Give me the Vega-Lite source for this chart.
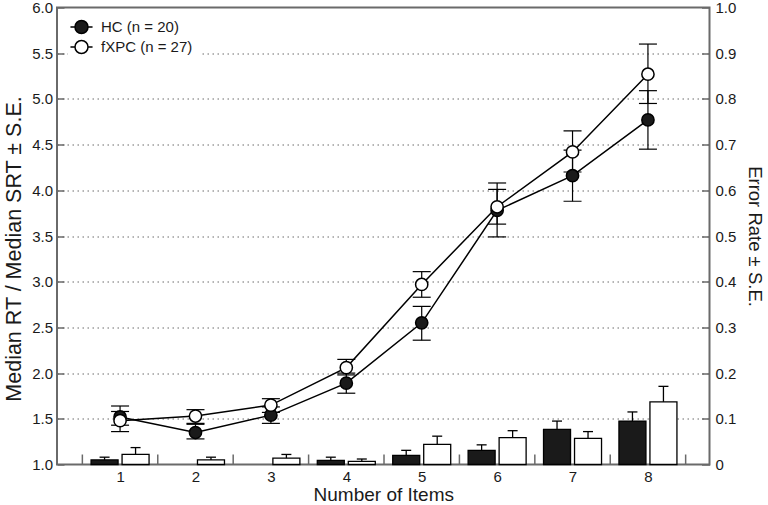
{
  "$schema": "https://vega.github.io/schema/vega-lite/v6.json",
  "width": 652.5,
  "height": 457,
  "autosize": {"type": "none"},
  "padding": {"left": 57, "top": 7.5, "right": 58.5, "bottom": 40.5},
  "background": "white",
  "config": {
    "view": {"stroke": "#6a6a6a", "strokeWidth": 2},
    "font": "Liberation Sans",
    "axis": {
      "labelFont": "Liberation Sans",
      "titleFont": "Liberation Sans",
      "labelFontSize": 15,
      "titleFontSize": 19,
      "titleFontWeight": "normal",
      "labelColor": "#1a1a1a",
      "titleColor": "#1a1a1a",
      "domain": false,
      "tickColor": "#6a6a6a",
      "tickWidth": 1.5
    }
  },
  "datasets": {
    "main": [
      {"items": 1, "group": "HC", "rt": 1.52, "lo": 1.43, "hi": 1.58, "err": 0.010, "errHi": 0.016},
      {"items": 2, "group": "HC", "rt": 1.35, "lo": 1.28, "hi": 1.44, "err": null, "errHi": null},
      {"items": 3, "group": "HC", "rt": 1.54, "lo": 1.45, "hi": 1.63, "err": null, "errHi": null},
      {"items": 4, "group": "HC", "rt": 1.89, "lo": 1.78, "hi": 2.00, "err": 0.009, "errHi": 0.016},
      {"items": 5, "group": "HC", "rt": 2.55, "lo": 2.36, "hi": 2.73, "err": 0.020, "errHi": 0.031},
      {"items": 6, "group": "HC", "rt": 3.78, "lo": 3.49, "hi": 4.08, "err": 0.031, "errHi": 0.043},
      {"items": 7, "group": "HC", "rt": 4.16, "lo": 3.88, "hi": 4.44, "err": 0.077, "errHi": 0.095},
      {"items": 8, "group": "HC", "rt": 4.77, "lo": 4.45, "hi": 5.09, "err": 0.095, "errHi": 0.115},
      {"items": 1, "group": "fXPC", "rt": 1.48, "lo": 1.36, "hi": 1.64, "err": 0.022, "errHi": 0.037},
      {"items": 2, "group": "fXPC", "rt": 1.53, "lo": 1.45, "hi": 1.60, "err": 0.010, "errHi": 0.016},
      {"items": 3, "group": "fXPC", "rt": 1.65, "lo": 1.57, "hi": 1.72, "err": 0.014, "errHi": 0.022},
      {"items": 4, "group": "fXPC", "rt": 2.06, "lo": 1.98, "hi": 2.15, "err": 0.007, "errHi": 0.012},
      {"items": 5, "group": "fXPC", "rt": 2.97, "lo": 2.83, "hi": 3.11, "err": 0.044, "errHi": 0.062},
      {"items": 6, "group": "fXPC", "rt": 3.82, "lo": 3.63, "hi": 4.01, "err": 0.059, "errHi": 0.074},
      {"items": 7, "group": "fXPC", "rt": 4.42, "lo": 4.20, "hi": 4.65, "err": 0.057, "errHi": 0.072},
      {"items": 8, "group": "fXPC", "rt": 5.27, "lo": 4.95, "hi": 5.60, "err": 0.137, "errHi": 0.171}
    ],
    "bounds": [
      {"b": 0.5}, {"b": 1.5}, {"b": 2.5}, {"b": 3.5}, {"b": 4.5},
      {"b": 5.5}, {"b": 6.5}, {"b": 7.5}, {"b": 8.5}
    ]
  },
  "data": {"name": "main"},
  "layer": [
    {
      "layer": [
        {
          "transform": [{"filter": "datum.group == 'HC'"}],
          "mark": {"type": "bar", "size": 27, "xOffset": -15.5, "stroke": "black", "strokeWidth": 1.3},
          "encoding": {
            "x": {"field": "items", "type": "quantitative", "scale": {"domain": [0.23, 8.75], "nice": false, "zero": false}},
            "y": {"field": "err", "type": "quantitative", "scale": {"domain": [0, 1], "nice": false},
              "axis": {
                "orient": "right",
                "values": [0, 0.1, 0.2, 0.3, 0.4, 0.5, 0.6, 0.7, 0.8, 0.9, 1.0],
                "labelExpr": "datum.value == 0 ? '0' : format(datum.value, '.1f')",
                "grid": false,
                "tickSize": -8,
                "labelPadding": 13.5,
                "title": "Error Rate ± S.E.",
                "titleFontSize": 18.5,
                "titlePadding": 9
              }},
            "fill": {"field": "group", "type": "nominal", "scale": {"domain": ["HC", "fXPC"], "range": ["#1a1a1a", "#ffffff"]}}
          }
        },
        {
          "transform": [{"filter": "datum.group == 'fXPC'"}],
          "mark": {"type": "bar", "size": 27, "xOffset": 15.5, "stroke": "black", "strokeWidth": 1.3},
          "encoding": {
            "x": {"field": "items", "type": "quantitative"},
            "y": {"field": "err", "type": "quantitative"},
            "fill": {"field": "group", "type": "nominal"}
          }
        },
        {
          "transform": [{"filter": "datum.group == 'HC'"}],
          "mark": {"type": "rule", "xOffset": -15.5, "color": "black", "strokeWidth": 1.3},
          "encoding": {
            "x": {"field": "items", "type": "quantitative"},
            "y": {"field": "err", "type": "quantitative"},
            "y2": {"field": "errHi"}
          }
        },
        {
          "transform": [{"filter": "datum.group == 'HC'"}],
          "mark": {"type": "tick", "orient": "horizontal", "size": 10, "thickness": 1.3, "xOffset": -15.5, "color": "black", "opacity": 1},
          "encoding": {
            "x": {"field": "items", "type": "quantitative"},
            "y": {"field": "errHi", "type": "quantitative"}
          }
        },
        {
          "transform": [{"filter": "datum.group == 'fXPC'"}],
          "mark": {"type": "rule", "xOffset": 15.5, "color": "black", "strokeWidth": 1.3},
          "encoding": {
            "x": {"field": "items", "type": "quantitative"},
            "y": {"field": "err", "type": "quantitative"},
            "y2": {"field": "errHi"}
          }
        },
        {
          "transform": [{"filter": "datum.group == 'fXPC'"}],
          "mark": {"type": "tick", "orient": "horizontal", "size": 10, "thickness": 1.3, "xOffset": 15.5, "color": "black", "opacity": 1},
          "encoding": {
            "x": {"field": "items", "type": "quantitative"},
            "y": {"field": "errHi", "type": "quantitative"}
          }
        }
      ]
    },
    {
      "layer": [
        {
          "data": {"name": "bounds"},
          "mark": {"type": "tick", "orient": "vertical", "size": 10, "thickness": 1.5, "yOffset": -5, "color": "#6a6a6a", "opacity": 1},
          "encoding": {
            "x": {"field": "b", "type": "quantitative"},
            "y": {"datum": 1, "type": "quantitative", "scale": {"domain": [1, 6], "nice": false, "zero": false}}
          }
        },
        {
          "mark": {"type": "line", "color": "black", "strokeWidth": 1.5},
          "encoding": {
            "x": {"field": "items", "type": "quantitative", "scale": {"domain": [0.23, 8.75], "nice": false, "zero": false},
              "axis": {
                "values": [1, 2, 3, 4, 5, 6, 7, 8],
                "format": "d",
                "ticks": false,
                "grid": false,
                "labelPadding": 5,
                "title": "Number of Items",
                "titleFontSize": 19,
                "titlePadding": 1
              }},
            "y": {"field": "rt", "type": "quantitative", "scale": {"domain": [1, 6], "nice": false, "zero": false},
              "axis": {
                "orient": "left",
                "values": [1, 1.5, 2, 2.5, 3, 3.5, 4, 4.5, 5, 5.5, 6],
                "format": ".1f",
                "grid": true,
                "gridColor": "#6a6a6a",
                "gridDash": [1.5, 3.5],
                "gridWidth": 1,
                "gridOpacity": {"condition": {"test": "datum.value == 1 || datum.value == 6", "value": 0}, "value": 1},
                "tickSize": -7,
                "labelPadding": 11.5,
                "title": "Median RT / Median SRT ± S.E.",
                "titleFontSize": 21.5,
                "titlePadding": 6,
                "titleY": 241
              }},
            "detail": {"field": "group"}
          }
        },
        {
          "mark": {"type": "rule", "color": "black", "strokeWidth": 1.2},
          "encoding": {
            "x": {"field": "items", "type": "quantitative"},
            "y": {"field": "lo", "type": "quantitative"},
            "y2": {"field": "hi"}
          }
        },
        {
          "mark": {"type": "tick", "orient": "horizontal", "size": 18, "thickness": 1.2, "color": "black", "opacity": 1},
          "encoding": {
            "x": {"field": "items", "type": "quantitative"},
            "y": {"field": "lo", "type": "quantitative"}
          }
        },
        {
          "mark": {"type": "tick", "orient": "horizontal", "size": 18, "thickness": 1.2, "color": "black", "opacity": 1},
          "encoding": {
            "x": {"field": "items", "type": "quantitative"},
            "y": {"field": "hi", "type": "quantitative"}
          }
        },
        {
          "mark": {"type": "point", "shape": "circle", "filled": true, "size": 150, "stroke": "black", "strokeWidth": 1.5, "opacity": 1},
          "encoding": {
            "x": {"field": "items", "type": "quantitative"},
            "y": {"field": "rt", "type": "quantitative"},
            "fill": {"field": "group", "type": "nominal", "scale": {"domain": ["HC", "fXPC"], "range": ["#1a1a1a", "#ffffff"]},
              "legend": {
                "orient": "none",
                "legendX": 11,
                "legendY": 6,
                "title": null,
                "direction": "vertical",
                "symbolType": "M -1.7 0 L -1 0 M 1 0 L 1.7 0 M -1 0 A 1 1 0 1 1 1 0 A 1 1 0 1 1 -1 0 Z",
                "symbolSize": 169,
                "symbolStrokeColor": "black",
                "symbolStrokeWidth": 1.5,
                "labelFont": "Liberation Sans",
                "labelFontSize": 15,
                "labelColor": "#1a1a1a",
                "labelOffset": 12,
                "rowPadding": 1,
                "padding": 6,
                "fillColor": "white",
                "labelExpr": "datum.label == 'HC' ? 'HC (n = 20)' : 'fXPC (n = 27)'"
              }}
          }
        }
      ]
    }
  ],
  "resolve": {"scale": {"y": "independent"}}
}
